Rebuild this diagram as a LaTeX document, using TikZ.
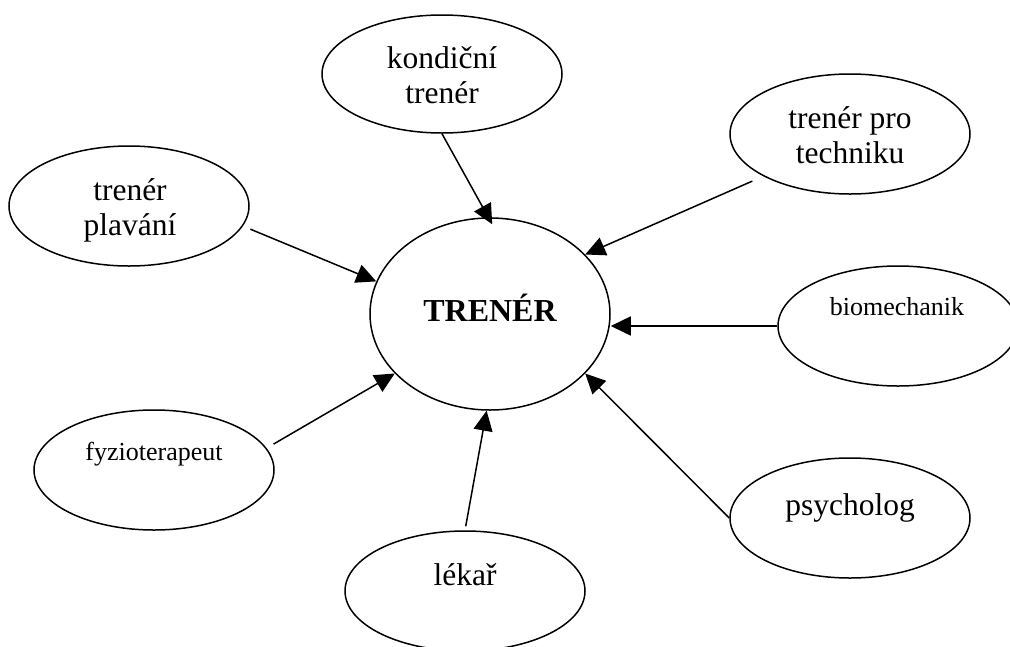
\documentclass[tikz,border=0pt]{standalone}
\usepackage{fontspec}
\setmainfont{Liberation Serif}
\usetikzlibrary{shapes.geometric,arrows.meta}
\begin{document}
\begin{tikzpicture}[x=1pt,y=-1pt,
  bub/.style={ellipse,draw,line width=1.5pt,minimum width=240pt,minimum height=120pt,inner sep=0pt},
  lbl/.style={anchor=base,inner sep=0pt,font=\fontsize{31.5}{35}\selectfont},
  slbl/.style={anchor=base,inner sep=0pt,font=\fontsize{26}{30}\selectfont},
  blbl/.style={anchor=base,inner sep=0pt,font=\fontsize{32}{36}\selectfont\bfseries},
  arr/.style={line width=1.5pt,-{Triangle[length=20pt,width=19pt]}}]
\useasboundingbox (0,0) rectangle (1010,646);
% ellipses
\node[bub,minimum height=192pt] (T) at (490,314) {};
\node[bub,minimum height=118pt] (K) at (442,74) {};
\node[bub] (P) at (129,206) {};
\node[bub] (TP) at (850,134) {};
\node[bub] (B) at (898,326) {};
\node[bub] (F) at (154,470) {};
\node[bub] (L) at (465,591) {};
\node[bub] (S) at (850,518) {};
% labels
\node[blbl] (Tt) at (490,321) {TRENÉR};
\node[lbl] (K1) at (442,68) {kondiční};
\node[lbl] (K2) at (442,103) {trenér};
\node[lbl] (P1) at (130,200) {trenér};
\node[lbl] (P2) at (130,235) {plavání};
\node[lbl] (TP1) at (850,128) {trenér pro};
\node[lbl] (TP2) at (850,163) {techniku};
\node[slbl] (B1) at (897,315) {biomechanik};
\node[slbl] (F1) at (154,460) {fyzioterapeut};
\node[lbl] (L1) at (465,585) {lékař};
\node[lbl] (S1) at (850,515) {psycholog};
% connectors
\draw[arr,shorten >=-8pt] (K.south) -- (T.91);
\draw[arr,shorten <=8pt] (P.-10.8) -- (T.164);
\draw[arr,shorten <=12pt] (TP.206.6) -- (T.32);
\draw[arr] (B.west) -- (B.west -| T.east);
\draw[arr,shorten <=8pt] (F.11.4) -- (T.212);
\draw[arr,shorten <=4pt] (L.north) -- (T.-92);
\draw[arr] (S.west) -- (T.-32);
\end{tikzpicture}
\end{document}
